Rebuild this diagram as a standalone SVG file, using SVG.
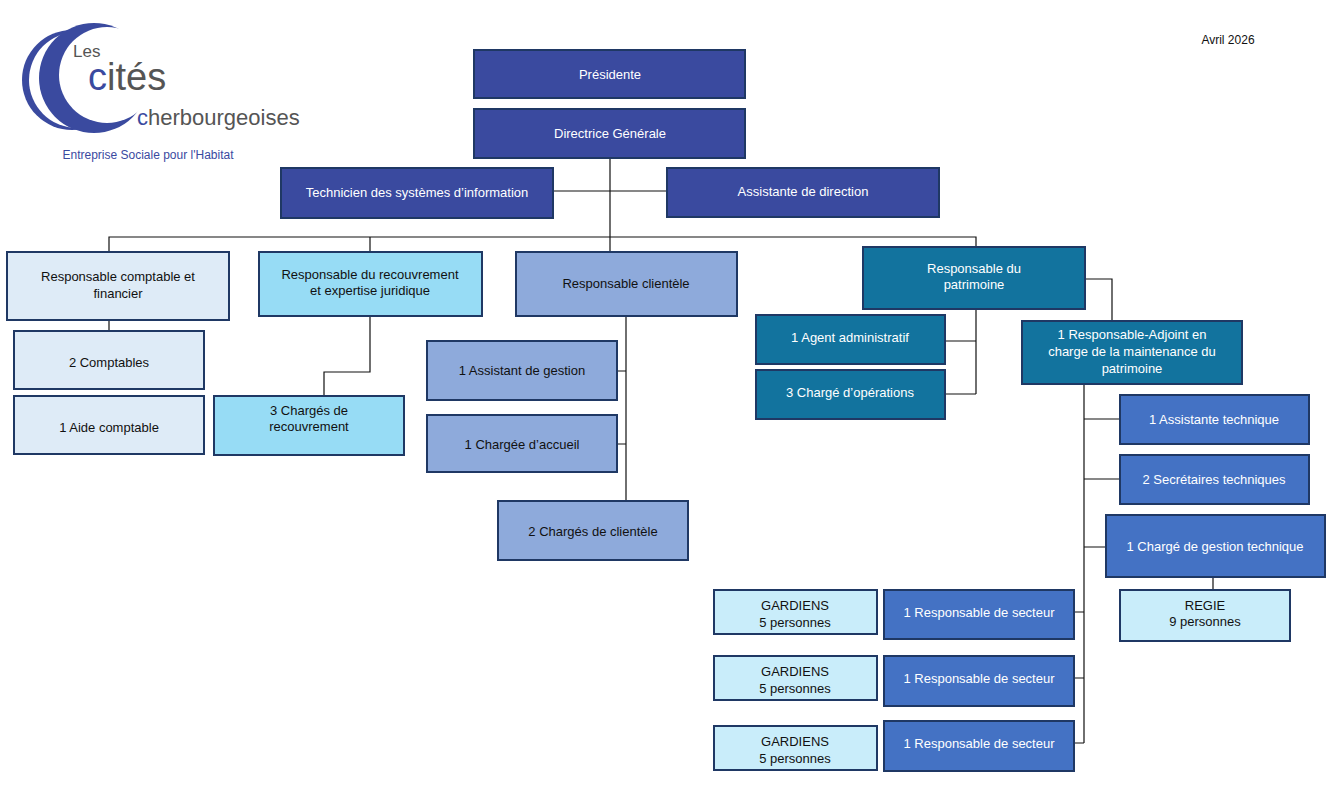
<svg xmlns="http://www.w3.org/2000/svg" width="1331" height="785" viewBox="0 0 1331 785">
<style>
text{font-family:"Liberation Sans",Arial,sans-serif;font-size:13px;text-anchor:middle}
.b rect{stroke:#1f3864;stroke-width:2}
.w{fill:#fff}.k{fill:#111}
.d{fill:#3a4a9f}.t{fill:#12739e}.m{fill:#4472c4}.g{fill:#8eaadb}.l{fill:#deebf7}.c{fill:#97dcf5}.p{fill:#c9edfa}
.con path{fill:none;stroke:#111;stroke-width:1.2}
</style>
<rect width="1331" height="785" fill="#fff"/>
<g id="logo">
<circle cx="72" cy="80" r="50" fill="#3a4a9f"/>
<circle cx="77" cy="80" r="48" fill="#fff"/>
<circle cx="94" cy="78" r="55" fill="#3a4a9f"/>
<circle cx="107" cy="75" r="48" fill="#fff"/>
<text x="73" y="57" style="font-size:17px;text-anchor:start;fill:#555">Les</text>
<text x="88" y="90" style="font-size:38px;text-anchor:start;fill:#555"><tspan fill="#3a4a9f">c</tspan>ités</text>
<text x="137" y="125" style="font-size:22px;text-anchor:start;fill:#555"><tspan fill="#3a4a9f">c</tspan>herbourgeoises</text>
<text x="148" y="159" style="font-size:12px;fill:#3a4a9f">Entreprise Sociale pour l'Habitat</text>
</g>
<text x="1228" y="44" class="k" style="font-size:12px">Avril 2026</text>
<g class="con">
<path d="M610,158V237M553,191H667M109,252V237H976V247M370,237V252M610,237V252M109,320V331M370,316V372H324V396M626,316V501M617,371H626M617,444H626M976,309V394M945,341H976M945,394H976M1085,279H1112V321M1084,384V743M1084,419H1120M1084,479H1120M1084,547H1106M1213,577V590M1074,612H1084M1074,678H1084M1074,743H1084"/>
</g>
<g class="b">
<g id="n1"><rect x="474" y="50" width="271" height="48" class="d"/><text x="610" y="79" class="w">Présidente</text></g>
<g id="n2"><rect x="474" y="109" width="271" height="49" class="d"/><text x="610" y="138" class="w">Directrice Générale</text></g>
<g id="n3"><rect x="281" y="168" width="272" height="50" class="d"/><text x="417" y="197" class="w">Technicien des systèmes d’information</text></g>
<g id="n4"><rect x="667" y="168" width="272" height="49" class="d"/><text x="803" y="196" class="w">Assistante de direction</text></g>
<g id="n5"><rect x="7" y="252" width="222" height="68" class="l"/><text x="118" y="281" class="k">Responsable comptable et</text><text x="118" y="298" class="k">financier</text></g>
<g id="n6"><rect x="259" y="252" width="223" height="64" class="c"/><text x="370" y="279" class="k">Responsable du recouvrement</text><text x="370" y="295" class="k">et expertise juridique</text></g>
<g id="n7"><rect x="516" y="252" width="221" height="64" class="g"/><text x="626" y="288" class="k">Responsable clientèle</text></g>
<g id="n8"><rect x="863" y="247" width="222" height="62" class="t"/><text x="974" y="273" class="w">Responsable du</text><text x="974" y="289" class="w">patrimoine</text></g>
<g id="n9"><rect x="14" y="331" width="190" height="58" class="l"/><text x="109" y="367" class="k">2 Comptables</text></g>
<g id="n10"><rect x="14" y="396" width="190" height="58" class="l"/><text x="109" y="432" class="k">1 Aide comptable</text></g>
<g id="n11"><rect x="214" y="396" width="190" height="59" class="c"/><text x="309" y="415" class="k">3 Chargés de</text><text x="309" y="431" class="k">recouvrement</text></g>
<g id="n12"><rect x="427" y="341" width="190" height="59" class="g"/><text x="522" y="375" class="k">1 Assistant de gestion</text></g>
<g id="n13"><rect x="427" y="415" width="190" height="57" class="g"/><text x="522" y="449" class="k">1 Chargée d’accueil</text></g>
<g id="n14"><rect x="498" y="501" width="190" height="59" class="g"/><text x="593" y="536" class="k">2 Chargés de clientèle</text></g>
<g id="n15"><rect x="756" y="315" width="189" height="49" class="t"/><text x="850" y="342" class="w">1 Agent administratif</text></g>
<g id="n16"><rect x="756" y="370" width="189" height="49" class="t"/><text x="850" y="397" class="w">3 Chargé d’opérations</text></g>
<g id="n17"><rect x="1022" y="321" width="220" height="63" class="t"/><text x="1132" y="339" class="w">1 Responsable-Adjoint en</text><text x="1132" y="356" class="w">charge de la maintenance du</text><text x="1132" y="373" class="w">patrimoine</text></g>
<g id="n18"><rect x="1120" y="395" width="189" height="49" class="m"/><text x="1214" y="424" class="w">1 Assistante technique</text></g>
<g id="n19"><rect x="1120" y="455" width="189" height="49" class="m"/><text x="1214" y="484" class="w">2 Secrétaires techniques</text></g>
<g id="n20"><rect x="1106" y="515" width="219" height="62" class="m"/><text x="1215" y="551" class="w">1 Chargé de gestion technique</text></g>
<g id="n21"><rect x="1120" y="590" width="170" height="51" class="p"/><text x="1205" y="610" class="k">REGIE</text><text x="1205" y="626" class="k">9 personnes</text></g>
<g id="n22"><rect x="884" y="590" width="190" height="49" class="m"/><text x="979" y="617" class="w">1 Responsable de secteur</text></g>
<g id="n23"><rect x="884" y="656" width="190" height="50" class="m"/><text x="979" y="683" class="w">1 Responsable de secteur</text></g>
<g id="n24"><rect x="884" y="721" width="190" height="50" class="m"/><text x="979" y="748" class="w">1 Responsable de secteur</text></g>
<g id="n25"><rect x="714" y="590" width="163" height="44" class="p"/><text x="795" y="610" class="k">GARDIENS</text><text x="795" y="627" class="k">5 personnes</text></g>
<g id="n26"><rect x="714" y="656" width="163" height="44" class="p"/><text x="795" y="676" class="k">GARDIENS</text><text x="795" y="693" class="k">5 personnes</text></g>
<g id="n27"><rect x="714" y="726" width="163" height="44" class="p"/><text x="795" y="746" class="k">GARDIENS</text><text x="795" y="763" class="k">5 personnes</text></g>
</g>
</svg>
